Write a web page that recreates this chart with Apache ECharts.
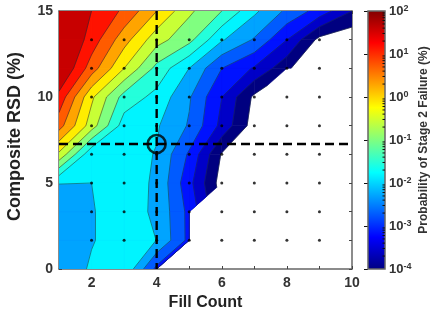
<!DOCTYPE html>
<html>
<head>
<meta charset="utf-8">
<title>Probability of Stage 2 Failure</title>
<script src="https://cdn.jsdelivr.net/npm/echarts@6/dist/echarts.min.js"></script>
<style>
html, body { margin: 0; padding: 0; background: #fff; }
#container { width: 434px; height: 311px; }
</style>
</head>
<body>
<div id="container"></div>
<script>
// fill count (columns) and composite RSD (rows)
var fillCounts = [1, 2, 3, 4, 5, 6, 7, 8, 9, 10];
var rsdValues = [0, 1.67, 3.33, 5, 6.67, 8.33, 10, 11.67, 13.33, 15];

// log10 of probability (%), one line per RSD row. null = no failures (white)
var row0 = [-2.11, -1.81, -1.47, -2.84, null, null, null, null, null, null];
var row1 = [-2.03, -1.88, -1.69, -1.86, -2.84, null, null, null, null, null];
var row2 = [-2.03, -1.88, -1.69, -1.92, -2.84, null, null, null, null, null];
var row3 = [-1.85, -1.857, -1.69, -1.91, -3.01, -4.21, null, null, null, null];
var row4 = [-0.23, -1.77, -1.69, -1.88, -2.78, -4.04, null, null, null, null];
var row5 = [0.89, -0.36, -1.64, -1.81, -2.33, -3.27, -4.21, null, null, null];
var row6 = [1.44, -0.06, -1.17, -1.56, -2.24, -3.14, -4.09, null, null, null];
var row7 = [2.09, 0.93, -0.14, -1.13, -1.86, -2.71, -3.19, -3.87, -4.86, null];
var row8 = [2.21, 1.38, 0.46, -0.40, -0.87, -1.81, -2.33, -3.14, -4.13, -4.34];
var row9 = [2.0, 1.57, 1.06, 0.29, -0.49, -1.0, -1.77, -2.37, -2.89, -3.57];
var logProb = [row0, row1, row2, row3, row4, row5, row6, row7, row8, row9];

// lower bound of each filled band, and its colour
var contourLevels = [-4, -3.571, -3.143, -2.714, -2.286, -1.857, -1.429, -1, -0.571, -0.143, 0.286, 0.714, 1.143, 1.571];
var bandColors = ['#000080', '#0000c8', '#0012ff', '#005bff', '#00a4ff', '#00f4ff', '#24ffdb',
    '#80ff80', '#c8ff36', '#ffed00', '#ffa400', '#ff5b00', '#ff1200', '#c80000'];

// dashed crosshair and its circle
var markerX = 4;
var markerY = 7.27;

// colorbar
var barMin = -4;
var barMax = 2;
var jetStops = [[0, '#000080'], [0.125, '#0000ff'], [0.375, '#00ffff'], [0.625, '#ffff00'], [0.875, '#ff0000'], [1, '#800000']];
var minorMultiples = [2, 3, 4, 5, 6, 7, 8, 9];

var fontName = '"Liberation Sans", Arial, sans-serif';
var axisGray = '#666';
var contourStyle = { stroke: '#1c2a33', opacity: 0.75, lineWidth: 0.7 };

/**
 * clip one cell to the part where value >= level (corners are {x, y, v})
 * returns the polygon and the crossing points
 */
function clipCell(corners, level) {
    var poly = [];
    var cross = [];
    for (var n = 0; n < corners.length; n++) {
        var a = corners[n];
        var b = corners[(n + 1) % corners.length];
        var aIn = a.v >= level;
        var bIn = b.v >= level;
        if (aIn) {
            poly.push([a.x, a.y]);
        }
        if (aIn != bIn) {
            var t = (level - a.v) / (b.v - a.v);
            var p = [a.x + t * (b.x - a.x), a.y + t * (b.y - a.y)];
            poly.push(p);
            cross.push(p);
        }
    }
    return { poly: poly, cross: cross };
}

// corners of a grid cell that have data, null when there are fewer than three
function cellCorners(i, j) {
    var list = [[i, j], [i + 1, j], [i + 1, j + 1], [i, j + 1]];
    var corners = [];
    for (var n = 0; n < 4; n++) {
        var v = logProb[list[n][1]][list[n][0]];
        if (v !== null) {
            corners.push({ x: fillCounts[list[n][0]], y: rsdValues[list[n][1]], v: v });
        }
    }
    return corners.length >= 3 ? corners : null;
}

function toPixels(pts, api) {
    var out = [];
    for (var n = 0; n < pts.length; n++) {
        out.push(api.coord(pts[n]));
    }
    return out;
}

function segment(p, q, api) {
    var pts = toPixels([p, q], api);
    return {
        type: 'line',
        shape: { x1: pts[0][0], y1: pts[0][1], x2: pts[1][0], y2: pts[1][1] },
        style: contourStyle
    };
}

function renderBand(params, api) {
    var k = api.value(0);
    var corners = cellCorners(api.value(1), api.value(2));
    if (!corners) return null;
    var res = clipCell(corners, contourLevels[k]);
    if (res.poly.length < 3) return null;
    return {
        type: 'polygon',
        shape: { points: toPixels(res.poly, api) },
        style: { fill: bandColors[k], stroke: bandColors[k], lineWidth: 0.6 }
    };
}

function renderContourLine(params, api) {
    var k = api.value(0);
    var i = api.value(1);
    var j = api.value(2);
    var corners = cellCorners(i, j);
    if (!corners) return null;
    var res = clipCell(corners, contourLevels[k]);
    var children = [];
    for (var n = 0; n + 1 < res.cross.length; n += 2) {
        children.push(segment(res.cross[n], res.cross[n + 1], api));
    }
    // outline where the filled area stops against cells with no data
    if (k == 0) {
        for (var e = 0; e < corners.length; e++) {
            var a = corners[e];
            var b = corners[(e + 1) % corners.length];
            var slanted = a.x != b.x && a.y != b.y;
            var openRight = a.x == b.x && a.x == fillCounts[i + 1] && i + 1 < fillCounts.length - 1 && !cellCorners(i + 1, j);
            if ((slanted || openRight) && a.v >= contourLevels[0] && b.v >= contourLevels[0]) {
                children.push(segment([a.x, a.y], [b.x, b.y], api));
            }
        }
    }
    return { type: 'group', children: children };
}

function renderBar(params, api) {
    var bottom = api.coord([0, barMin]);
    var top = api.coord([1, barMax]);
    var stops = [];
    for (var n = 0; n < jetStops.length; n++) {
        stops.push({ offset: 1 - jetStops[n][0], color: jetStops[n][1] });
    }
    return {
        type: 'rect',
        shape: { x: bottom[0], y: top[1], width: top[0] - bottom[0], height: bottom[1] - top[1] },
        style: {
            fill: new echarts.graphic.LinearGradient(0, 0, 0, 1, stops),
            stroke: axisGray,
            lineWidth: 1.5
        }
    };
}

function renderMinorTick(params, api) {
    var p = api.coord([1, api.value(0)]);
    return {
        type: 'line',
        shape: { x1: p[0] - 2.5, y1: p[1], x2: p[0], y2: p[1] },
        style: { stroke: '#111', lineWidth: 1 }
    };
}

function initOption() {
    // one item per level and cell, drawn from the lowest level up
    var cellItems = [];
    for (var k = 0; k < contourLevels.length; k++) {
        for (var j = 0; j < rsdValues.length - 1; j++) {
            for (var i = 0; i < fillCounts.length - 1; i++) {
                cellItems.push([k, i, j]);
            }
        }
    }

    // sample dots on the inner grid nodes
    var dots = [];
    for (var r = 1; r < rsdValues.length - 1; r++) {
        for (var c = 1; c < fillCounts.length - 1; c++) {
            dots.push([fillCounts[c], rsdValues[r]]);
        }
    }

    var minorTicks = [];
    for (var d = barMin; d < barMax; d++) {
        for (var m = 0; m < minorMultiples.length; m++) {
            minorTicks.push([d + Math.log10(minorMultiples[m])]);
        }
    }

    var frameLine = { show: true, onZero: false, lineStyle: { color: axisGray, width: 1.5 } };
    var frameTick = { show: true, inside: true, length: 3, lineStyle: { color: '#444', width: 1 } };
    var tickFont = { color: '#333', fontSize: 14, fontWeight: 'bold', fontFamily: fontName };
    var dashed = { color: '#000', width: 2.4, type: [9, 5] };

    return {
        animation: false,
        backgroundColor: '#fff',
        grid: [
            { left: 59, top: 11, width: 293, height: 258, outerBoundsMode: 'none' },
            { left: 368, top: 11, width: 17, height: 258, outerBoundsMode: 'none' }
        ],
        xAxis: [
            {
                type: 'value', gridIndex: 0, min: 1, max: 10, interval: 1, position: 'bottom',
                name: 'Fill Count', nameLocation: 'middle', nameGap: 24,
                nameTextStyle: { color: '#222', fontSize: 16, fontWeight: 'bold', fontFamily: fontName },
                axisLine: frameLine, axisTick: frameTick, splitLine: { show: false },
                axisLabel: {
                    margin: 7, color: tickFont.color, fontSize: tickFont.fontSize,
                    fontWeight: tickFont.fontWeight, fontFamily: fontName,
                    formatter: function (v) { return v % 2 == 0 ? String(v) : ''; }
                }
            },
            {
                type: 'value', gridIndex: 0, min: 1, max: 10, interval: 1, position: 'top',
                axisLine: frameLine, axisTick: frameTick, axisLabel: { show: false }, splitLine: { show: false }
            },
            {
                type: 'value', gridIndex: 1, min: 0, max: 1, show: false
            }
        ],
        yAxis: [
            {
                type: 'value', gridIndex: 0, min: 0, max: 15, interval: 5 / 3, position: 'left',
                name: 'Composite RSD (%)', nameLocation: 'middle', nameGap: 35, nameRotate: 90,
                nameTextStyle: { color: '#222', fontSize: 18, fontWeight: 'bold', fontFamily: fontName, padding: [0, 0, 0, 7] },
                axisLine: frameLine, axisTick: frameTick, splitLine: { show: false },
                axisLabel: {
                    margin: 6, color: tickFont.color, fontSize: tickFont.fontSize,
                    fontWeight: tickFont.fontWeight, fontFamily: fontName,
                    formatter: function (v) {
                        var q = Math.round(v / 5);
                        return Math.abs(v / 5 - q) < 0.01 ? String(q * 5) : '';
                    }
                }
            },
            {
                type: 'value', gridIndex: 0, min: 0, max: 15, interval: 5 / 3, position: 'right',
                axisLine: frameLine, axisTick: frameTick, axisLabel: { show: false }, splitLine: { show: false }
            },
            {
                type: 'value', gridIndex: 1, min: barMin, max: barMax, interval: 1, position: 'right',
                name: 'Probability of Stage 2 Failure (%)', nameLocation: 'middle', nameGap: 33, nameRotate: 90,
                nameTextStyle: { color: '#333', fontSize: 12, fontWeight: 'bold', fontFamily: fontName },
                axisLine: { show: false },
                axisTick: { show: true, inside: true, length: 4, lineStyle: { color: '#111', width: 1 } },
                splitLine: { show: false },
                axisLabel: {
                    margin: 4, color: '#333', fontSize: 13, fontWeight: 'bold', fontFamily: fontName,
                    formatter: function (v) { return '10{s|' + v + '}'; },
                    rich: {
                        s: { fontSize: 9, fontWeight: 'bold', color: '#333', fontFamily: fontName, verticalAlign: 'top', lineHeight: 10 }
                    }
                }
            }
        ],
        series: [
            {
                type: 'custom', xAxisIndex: 0, yAxisIndex: 0, coordinateSystem: 'cartesian2d', silent: true,
                z: 2, clip: true, renderItem: renderBand, data: cellItems, encode: { x: 1, y: 2 }
            },
            {
                type: 'custom', xAxisIndex: 0, yAxisIndex: 0, coordinateSystem: 'cartesian2d', silent: true,
                z: 3, clip: true, renderItem: renderContourLine, data: cellItems, encode: { x: 1, y: 2 }
            },
            {
                type: 'scatter', xAxisIndex: 0, yAxisIndex: 0, symbolSize: 3, silent: true, z: 4,
                itemStyle: { color: '#000' }, data: dots
            },
            {
                type: 'line', xAxisIndex: 0, yAxisIndex: 0, symbol: 'none', silent: true, z: 5,
                lineStyle: dashed, data: [[fillCounts[0], markerY], [fillCounts[9], markerY]]
            },
            {
                type: 'line', xAxisIndex: 0, yAxisIndex: 0, symbol: 'none', silent: true, z: 5,
                lineStyle: dashed, data: [[markerX, rsdValues[9]], [markerX, rsdValues[0]]]
            },
            {
                type: 'scatter', xAxisIndex: 0, yAxisIndex: 0, symbolSize: 18, silent: true, z: 6,
                itemStyle: { color: 'rgba(0,0,0,0)', borderColor: '#000', borderWidth: 2.6 },
                data: [[markerX, markerY]]
            },
            {
                type: 'custom', xAxisIndex: 2, yAxisIndex: 2, coordinateSystem: 'cartesian2d', silent: true,
                z: 2, renderItem: renderBar, data: [[0, barMin]]
            },
            {
                type: 'custom', xAxisIndex: 2, yAxisIndex: 2, coordinateSystem: 'cartesian2d', silent: true,
                z: 3, renderItem: renderMinorTick, data: minorTicks, encode: { y: 0 }
            }
        ]
    };
}

var myChart = echarts.init(document.getElementById('container'), null, { renderer: 'canvas' });
myChart.setOption(initOption());
</script>
</body>
</html>
